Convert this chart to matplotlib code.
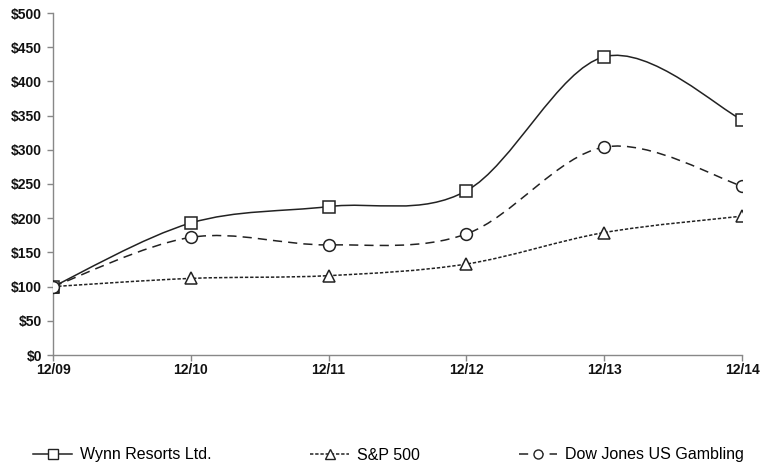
import numpy as np
import matplotlib.pyplot as plt
from matplotlib.path import Path
from matplotlib.patches import PathPatch
from matplotlib.lines import Line2D

plt.rcParams['font.family'] = ['Liberation Sans', 'DejaVu Sans']

years = ['12/09', '12/10', '12/11', '12/12', '12/13', '12/14']
wynn = [100, 193, 217, 240, 436, 344]
sp500 = [100, 112, 116, 133, 179, 203]
dj_gambling = [100, 172, 161, 177, 304, 247]

series = [
    ('Wynn Resorts Ltd.', wynn, 's', '-'),
    ('S&P 500', sp500, '^', (0, (2.2, 1.2))),
    ('Dow Jones US Gambling', dj_gambling, 'o', (0, (6, 4))),
]


def smooth_path(x, y):
    # catmull-rom style bezier, like a spreadsheet "smoothed line"
    pts = np.column_stack([x, y]).astype(float)
    n = len(pts)
    verts = [pts[0]]
    codes = [Path.MOVETO]
    for i in range(n - 1):
        p0 = pts[i - 1] if i > 0 else pts[i]
        p1 = pts[i]
        p2 = pts[i + 1]
        p3 = pts[i + 2] if i + 2 < n else pts[i + 1]
        c1 = p1 + (p2 - p0) / 6.0
        c2 = p2 - (p3 - p1) / 6.0
        verts += [c1, c2, p2]
        codes += [Path.CURVE4] * 3
    return Path(verts, codes)


fig = plt.figure(figsize=(7.62, 4.70), dpi=100)
ax = fig.add_axes([53 / 762, 115 / 470, (742 - 53) / 762, (355 - 13) / 470])

x = np.arange(len(years))
line_col = '#222222'
handles = []
for name, vals, mk, ls in series:
    patch = PathPatch(smooth_path(x, vals), facecolor='none', edgecolor=line_col,
                      linewidth=1.1, linestyle=ls, zorder=2)
    ax.add_patch(patch)
    ax.plot(x, vals, linestyle='none', marker=mk, markersize=8.5,
            markerfacecolor='white', markeredgecolor=line_col,
            markeredgewidth=1.1, zorder=3)
    handles.append(Line2D([], [], color=line_col, linewidth=1.1, linestyle=ls,
                          marker=mk, markersize=6.5, markerfacecolor='white',
                          markeredgecolor=line_col, markeredgewidth=1.0,
                          label=name))

ax.set_xlim(0, len(years) - 1)
ax.set_ylim(0, 500)
ax.set_yticks(np.arange(0, 501, 50))
ax.set_yticklabels(['$%d' % v for v in np.arange(0, 501, 50)],
                   fontsize=10, fontweight='bold', color='#111111')
ax.set_xticks(x)
ax.set_xticklabels(years, fontsize=10, fontweight='bold', color='#111111')

for s in ['top', 'right']:
    ax.spines[s].set_visible(False)
for s in ['left', 'bottom']:
    ax.spines[s].set_color('#888888')
    ax.spines[s].set_linewidth(1.0)
ax.tick_params(axis='both', direction='out', length=4, color='#888888', width=1.0)
ax.tick_params(axis='y', pad=4)
ax.tick_params(axis='x', pad=2)

fig.legend(handles=handles, loc='center', bbox_to_anchor=(0.51, 1 - 455 / 470),
           ncol=3, frameon=False, fontsize=11.5, handlelength=2.4,
           columnspacing=6.2, handletextpad=0.5)

fig.savefig('out.png', dpi=100)
